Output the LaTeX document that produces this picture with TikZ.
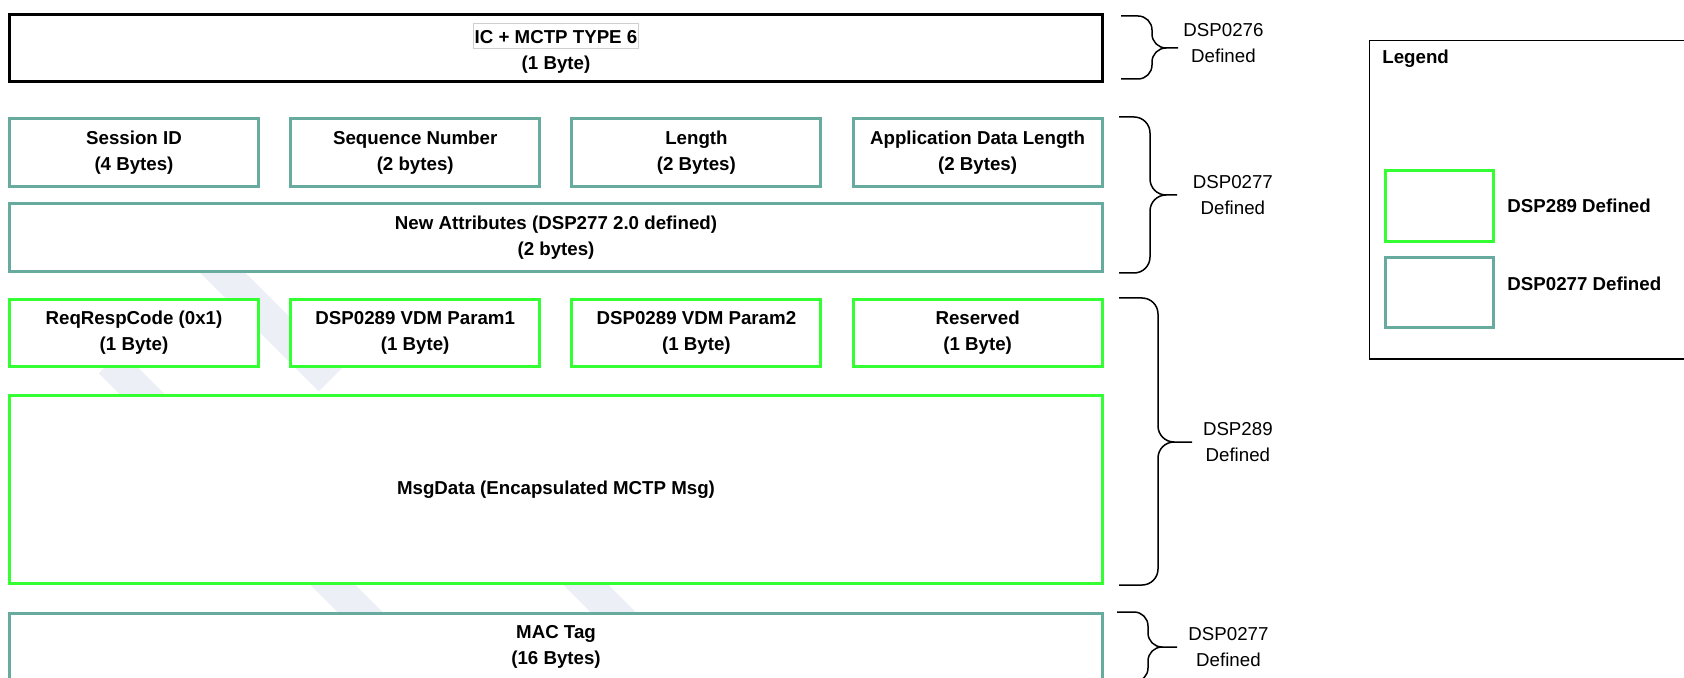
\documentclass[tikz,border=0pt]{standalone}
\usepackage{fontspec}
\setmainfont{Liberation Sans}
\usetikzlibrary{positioning}
\definecolor{dsp277}{HTML}{67AB9F}
\definecolor{dsp289}{HTML}{33FF33}
\definecolor{wmark}{HTML}{EDEFF7}
\definecolor{hlgray}{HTML}{CFCFCF}
\newcommand{\fieldfont}{\fontsize{9.35pt}{13pt}\selectfont}
\setlength{\fboxsep}{0.3pt}
\tikzstyle{field} = [rectangle, draw=dsp277, line width=1.5pt, fill=white, minimum width=124.5pt, minimum height=34pt, inner sep=0pt, align=center, font=\fieldfont\bfseries]
\tikzstyle{wide} = [field, minimum width=546.5pt]
\tikzstyle{vdm} = [field, draw=dsp289]
\tikzstyle{spec} = [align=center, inner sep=0pt, font=\fieldfont]
\tikzstyle{keytext} = [inner sep=0pt, font=\fieldfont\bfseries]
\tikzstyle{bracket} = [line width=0.75pt, rounded corners=7pt]
\tikzstyle{stripe} = [draw=wmark, line width=16pt]

\begin{document}
\begin{tikzpicture}[x=0.5pt, y=-0.5pt]
            \useasboundingbox (0,0) rectangle (1684,678);
            \draw [stripe] (200,250) -- (330,380);
            \draw [stripe] (110,362) -- (380,632);
            \draw [stripe] (570,569) -- (630,629);

            \node (icmctp) [wide, draw=black, minimum height=33.5pt] at (556,48) {\fcolorbox{hlgray}{white}{\rule[-2.2pt]{0pt}{11.6pt}IC + MCTP TYPE 6}\\(1 Byte)};

            \node (session) [field] at (134,152.5) {Session ID\\(4 Bytes)};
            \node (seqnum) [field, right=14.6pt of session] {Sequence Number\\(2 bytes)};
            \node (length) [field, right=14.6pt of seqnum] {Length\\(2 Bytes)};
            \node (appdatalen) [field, right=14.6pt of length] {Application Data Length\\(2 Bytes)};
            \node (newattr) [wide] at (556,237.5) {New Attributes (DSP277 2.0 defined)\\(2 bytes)};

            \node (reqresp) [vdm, minimum height=33.5pt] at (134,333) {ReqRespCode (0x1)\\(1 Byte)};
            \node (param1) [vdm, minimum height=33.5pt, right=14.6pt of reqresp] {DSP0289 VDM Param1\\(1 Byte)};
            \node (param2) [vdm, minimum height=33.5pt, right=14.6pt of param1] {DSP0289 VDM Param2\\(1 Byte)};
            \node (reserved) [vdm, minimum height=33.5pt, right=14.6pt of param2] {Reserved\\(1 Byte)};
            \node (msgdata) [wide, draw=dsp289, minimum height=94pt] at (556,489.5) {MsgData (Encapsulated MCTP Msg)};

            \node (mactag) [wide, minimum height=33.5pt] at (556,647) {MAC Tag\\(16 Bytes)};

            \coordinate (tip276) at (1178,48);
            \coordinate (tip277) at (1177,195);
            \coordinate (tip289) at (1192,442);
            \coordinate (tipmac) at (1177,647);
            \draw [bracket] (1121,16) -| (1152,48) -- (tip276) (1121,79) -| (1152,48) -- (tip276);
            \draw [bracket, rounded corners=8pt] (1119,117) -| (1150,195) -- (tip277) (1119,273) -| (1150,195) -- (tip277);
            \draw [bracket, rounded corners=8pt] (1119,298) -| (1158,442) -- (tip289) (1119,585) -| (1158,442) -- (tip289);
            \draw [bracket] (1117,612) -| (1148,647) -- (tipmac) (1117,682) -| (1148,647) -- (tipmac);
            \node (spec276) [spec, right=2.5pt of tip276, yshift=2.5pt] {DSP0276\\Defined};
            \node (spec277) [spec, right=7.7pt of tip277] {DSP0277\\Defined};
            \node (spec289) [spec, right=5.3pt of tip289] {DSP289\\Defined};
            \node (specmac) [spec, right=5.5pt of tipmac] {DSP0277\\Defined};

            \draw [line width=0.75pt] (1369.5,40.5) rectangle (1700,359);
            \node (legend) [keytext, anchor=base west] at (1382,64) {Legend};
            \node (key289) [vdm, minimum width=54pt, minimum height=35.5pt] at (1439.5,206) {};
            \node (key277) [field, minimum width=54pt, minimum height=35pt] at (1439.5,292.5) {};
            \node (key289text) [keytext, right=6pt of key289] {DSP289 Defined};
            \node (key277text) [keytext, right=6pt of key277, yshift=4.25pt] {DSP0277 Defined};
        \end{tikzpicture}
\end{document}
